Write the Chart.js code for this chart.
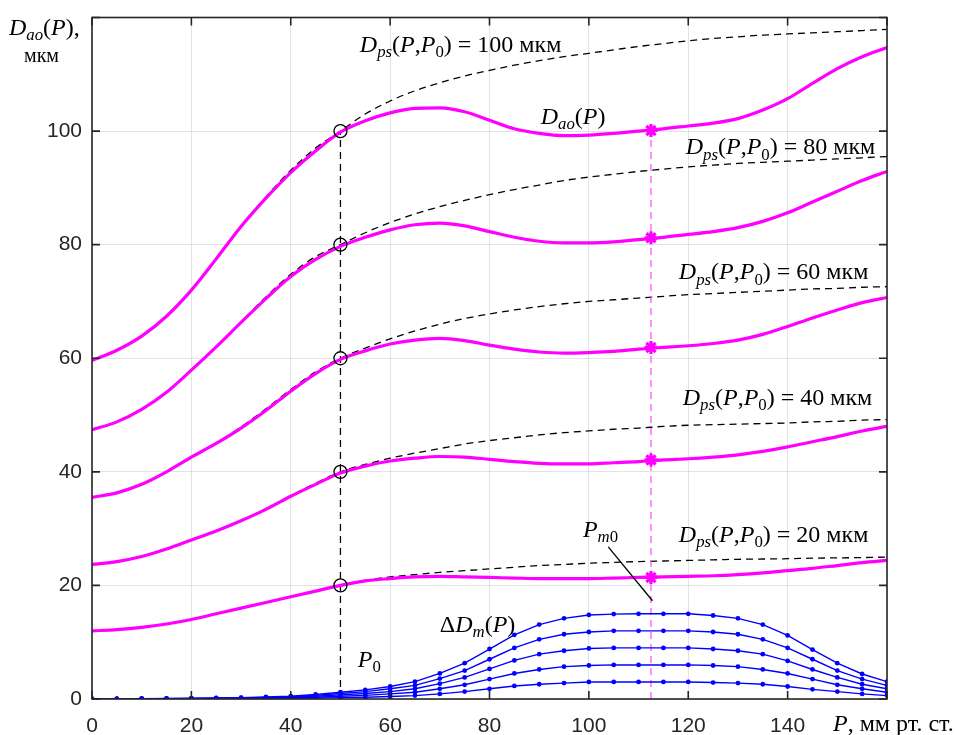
<!DOCTYPE html>
<html>
<head>
<meta charset="utf-8">
<script src="https://cdn.jsdelivr.net/npm/chart.js@4.4.1/dist/chart.umd.min.js"></script>
<style>
  html, body { margin: 0; padding: 0; background: #fff; }
  #wrap { width: 958px; height: 735px; position: relative; }
</style>
</head>
<body>
<div id="wrap"><canvas id="chart"></canvas></div>
<script>
// ---- DATA ----
const P = [0,5,10,15,20,25,30,35,40,45,50,55,60,65,70,75,80,85,90,95,100,105,110,115,120,125,130,135,140,145,150,155,160];

// Dps(P,P0) dashed curves
const dps100 = [59.6,61.4,63.9,67.4,72.0,77.5,83.2,88.4,93.1,97.0,100.0,103.0,105.3,107.1,108.5,109.7,110.7,111.6,112.4,113.1,113.7,114.3,114.9,115.4,115.9,116.3,116.6,116.9,117.1,117.3,117.5,117.7,117.9];
const dps80  = [47.4,48.8,51.0,54.0,57.9,62.0,66.4,70.8,74.8,77.9,80.0,82.1,83.9,85.4,86.7,87.8,88.8,89.7,90.5,91.3,91.9,92.4,92.9,93.3,93.7,94.0,94.3,94.5,94.7,94.9,95.1,95.3,95.5];
const dps60  = [35.5,36.3,37.8,40.0,42.6,45.1,47.9,51.1,54.5,57.6,60.0,61.8,63.4,64.8,66.0,67.0,67.8,68.5,69.1,69.6,70.0,70.3,70.6,70.9,71.2,71.4,71.6,71.8,72.0,72.2,72.3,72.5,72.6];
const dps40  = [23.7,24.2,25.1,26.4,28.0,29.6,31.4,33.5,35.8,38.0,40.0,41.3,42.4,43.3,44.1,44.9,45.5,46.0,46.5,46.9,47.2,47.5,47.7,48.0,48.2,48.3,48.4,48.5,48.6,48.8,48.9,49.1,49.2];
const dps20  = [12.0,12.2,12.6,13.2,14.0,15.0,16.0,17.0,18.0,19.0,20.0,20.9,21.5,21.9,22.3,22.6,22.9,23.2,23.5,23.7,23.9,24.05,24.2,24.3,24.4,24.5,24.6,24.65,24.7,24.8,24.85,24.9,25.0];

// Dao(P) magenta curves
const dao100 = [59.6,61.4,63.9,67.4,72.0,77.5,83.2,88.2,92.7,96.5,99.8,101.8,103.2,104.0,104.1,103.4,101.9,100.4,99.6,99.2,99.3,99.6,100.0,100.4,100.9,101.4,102.2,103.7,105.7,108.4,111.0,113.1,114.7];
const dao80  = [47.4,48.8,51.0,54.0,57.9,62.0,66.3,70.5,74.4,77.4,79.7,81.3,82.6,83.5,83.8,83.3,82.3,81.3,80.6,80.3,80.3,80.5,80.9,81.3,81.8,82.3,83.0,84.1,85.6,87.5,89.4,91.3,92.9];
const dao60  = [35.5,36.3,37.8,40.0,42.6,45.0,47.7,50.8,54.2,57.3,59.8,61.3,62.5,63.2,63.5,63.1,62.3,61.6,61.1,60.9,61.0,61.2,61.6,61.9,62.2,62.6,63.2,64.2,65.6,67.1,68.5,69.8,70.7];
const dao40  = [23.7,24.2,25.1,26.4,28.0,29.6,31.4,33.4,35.7,37.8,39.8,41.0,41.9,42.4,42.7,42.6,42.2,41.8,41.5,41.4,41.4,41.6,41.8,42.1,42.3,42.6,43.0,43.6,44.4,45.3,46.2,47.2,48.0];
const dao20  = [12.0,12.2,12.6,13.2,14.0,15.0,16.0,17.0,18.0,19.0,20.0,20.8,21.2,21.5,21.6,21.5,21.4,21.3,21.2,21.2,21.2,21.3,21.4,21.5,21.6,21.7,21.9,22.2,22.6,23.0,23.5,24.0,24.4];

// ΔDm(P) blue curves
const dm15 = [0.02,0.03,0.05,0.08,0.12,0.18,0.25,0.35,0.5,0.8,1.2,1.6,2.2,3.05,4.5,6.3,8.8,11.3,13.1,14.2,14.8,14.95,15,15,15,14.7,14.2,13.1,11.2,8.7,6.3,4.4,3.05];
const dm12 = [0.02,0.02,0.04,0.06,0.1,0.14,0.2,0.28,0.4,0.64,0.96,1.3,1.8,2.4,3.6,5.0,7.0,9.0,10.5,11.4,11.8,12,12,12,12,11.8,11.4,10.5,9.0,7.0,5.0,3.5,2.4];
const dm9  = [0.01,0.02,0.03,0.05,0.07,0.11,0.15,0.21,0.3,0.48,0.72,0.96,1.3,1.8,2.7,3.8,5.3,6.8,7.9,8.5,8.9,9,9,9,9,8.8,8.5,7.9,6.7,5.2,3.8,2.6,1.8];
const dm6  = [0.01,0.01,0.02,0.03,0.05,0.07,0.1,0.14,0.2,0.32,0.48,0.64,0.9,1.2,1.8,2.5,3.5,4.5,5.2,5.7,5.9,6,6,6,6,5.9,5.7,5.2,4.5,3.5,2.5,1.8,1.2];
const dm3  = [0,0.01,0.01,0.02,0.02,0.04,0.05,0.07,0.1,0.16,0.24,0.32,0.44,0.6,0.9,1.3,1.8,2.3,2.6,2.8,3,3,3,3,3,2.9,2.8,2.6,2.2,1.7,1.3,0.9,0.6];

// markers
const P0 = 50;
const P0levels = [20, 40, 60, 80, 100];
const Pm0 = 112.5;
const Pm0levels = [21.4, 42.1, 61.9, 81.2, 100.1];
const pm0Pointer = [[103.9, 26.8], [112.8, 17.3]];

const xTicks = [0,20,40,60,80,100,120,140,160];
const yTicks = [0,20,40,60,80,100,120];

const MAG = '#ff00ff';
const BLUE = '#0000ff';
const SERIF = '"Liberation Serif", "Times New Roman", serif';
const SANS = '"Liberation Sans", Arial, Helvetica, sans-serif';

const pts = ys => P.map((x, i) => ({ x: x, y: ys[i] }));

// ---- DATASETS ----
const datasets = [];
[dps100, dps80, dps60, dps40, dps20].forEach(d => datasets.push({
  data: pts(d), borderColor: '#000', borderWidth: 1.3, borderDash: [7, 5],
  pointRadius: 0, cubicInterpolationMode: 'monotone', order: 5
}));
[dao100, dao80, dao60, dao40, dao20].forEach(d => datasets.push({
  data: pts(d), borderColor: MAG, borderWidth: 3.2,
  pointRadius: 0, cubicInterpolationMode: 'monotone', order: 2
}));
[dm15, dm12, dm9, dm6, dm3].forEach(d => datasets.push({
  data: pts(d), borderColor: BLUE, backgroundColor: BLUE, borderWidth: 1.4,
  pointRadius: 2.4, pointBorderWidth: 0, tension: 0, order: 3
}));
datasets.push({
  data: [{ x: P0, y: 0 }, { x: P0, y: Math.max(...P0levels) }],
  borderColor: '#000', borderWidth: 1.3, borderDash: [7, 5], pointRadius: 0, order: 4
});
datasets.push({
  data: [{ x: Pm0, y: 0 }, { x: Pm0, y: Math.max(...Pm0levels) }],
  borderColor: '#ff55ff', borderWidth: 1.3, borderDash: [7, 5], pointRadius: 0, order: 4
});
datasets.push({
  data: pm0Pointer.map(p => ({ x: p[0], y: p[1] })),
  borderColor: '#000', borderWidth: 1.3, pointRadius: 0, order: 1
});
datasets.push({
  data: P0levels.map(v => ({ x: P0, y: v })), showLine: false,
  pointStyle: 'circle', pointRadius: 6.5, borderColor: '#000', backgroundColor: 'rgba(0,0,0,0)',
  pointBorderWidth: 1.3, order: 0
});
datasets.push({
  data: Pm0levels.map(v => ({ x: Pm0, y: v })), showLine: false,
  pointStyle: 'star', pointRadius: 6.5, borderColor: MAG, backgroundColor: MAG,
  pointBorderWidth: 3.2, order: 0
});

// ---- TEXT LABELS ----
const dpsText = v => [['D','i'],['ps','is'],['(',''],['P','i'],[',',''],['P','i'],['0','s'],[') = ' + v + ' мкм','']];
const inLabels = [
  { x: 53.9, y: 114.0, segs: dpsText(100) },
  { x: 90.3, y: 101.3, segs: [['D','i'],['ao','is'],['(',''],['P','i'],[')','']] },
  { x: 119.5, y: 95.9, segs: dpsText(80) },
  { x: 118.1, y: 73.9, segs: dpsText(60) },
  { x: 118.9, y: 51.8, segs: dpsText(40) },
  { x: 118.1, y: 27.7, segs: dpsText(20) },
  { x: 98.8, y: 28.6, segs: [['P','i'],['m','is'],['0','s']] },
  { x: 70.0, y: 11.8, segs: [['Δ',''],['D','i'],['m','is'],['(',''],['P','i'],[')','']] },
  { x: 53.5, y: 5.6, segs: [['P','i'],['0','s']] }
];

function rich(ctx, x, y, segs, size) {
  let cx = x;
  for (const [t, f] of segs) {
    const it = f.includes('i'), sub = f.includes('s');
    const fs = sub ? size * 0.7 : size;
    ctx.font = (it ? 'italic ' : '') + fs + 'px ' + SERIF;
    ctx.fillText(t, cx, y + (sub ? size * 0.22 : 0));
    cx += ctx.measureText(t).width;
  }
}

const decor = {
  id: 'decor',
  afterDraw(chart) {
    const { ctx, chartArea: a, scales: { x, y } } = chart;
    ctx.save();
    // frame
    ctx.strokeStyle = '#262626';
    ctx.lineWidth = 1.6;
    ctx.strokeRect(a.left, a.top, a.right - a.left, a.bottom - a.top);
    // inward ticks on all sides
    ctx.beginPath();
    xTicks.forEach(t => {
      const px = x.getPixelForValue(t);
      ctx.moveTo(px, a.bottom); ctx.lineTo(px, a.bottom - 8);
      ctx.moveTo(px, a.top); ctx.lineTo(px, a.top + 8);
    });
    yTicks.forEach(t => {
      const py = y.getPixelForValue(t);
      ctx.moveTo(a.left, py); ctx.lineTo(a.left + 8, py);
      ctx.moveTo(a.right, py); ctx.lineTo(a.right - 8, py);
    });
    ctx.stroke();

    // labels
    ctx.fillStyle = '#000';
    ctx.textBaseline = 'alphabetic';
    ctx.textAlign = 'left';
    inLabels.forEach(l => rich(ctx, x.getPixelForValue(l.x), y.getPixelForValue(l.y), l.segs, 24));
    rich(ctx, 9, 35, [['D','i'],['ao','is'],['(',''],['P','i'],['),','']], 24);
    ctx.font = '20px ' + SERIF;
    ctx.fillText('мкм', 24, 62);
    rich(ctx, 833, 731, [['P','i'],[', мм рт. ст.','']], 24);
    ctx.restore();
  }
};

const noPad = s => { s.paddingTop = 0; s.paddingBottom = 0; s.paddingLeft = 0; s.paddingRight = 0; };

// ---- CHART ----
new Chart(document.getElementById('chart').getContext('2d'), {
  type: 'line',
  data: { datasets: datasets },
  options: {
    responsive: true,
    maintainAspectRatio: false,
    animation: false,
    layout: { padding: { left: 0, top: 17.5, right: 71, bottom: 0 } },
    plugins: { legend: { display: false }, tooltip: { enabled: false } },
    scales: {
      x: {
        type: 'linear', min: 0, max: 160,
        afterFit: s => { s.height = 36; noPad(s); },
        afterBuildTicks: s => { s.ticks = xTicks.map(v => ({ value: v })); },
        ticks: {
          color: '#262626', padding: 15, maxRotation: 0,
          font: { family: SANS, size: 21 },
          callback: v => (v === 160 ? '' : v)
        },
        grid: { color: 'rgba(0,0,0,0.11)', drawTicks: false },
        border: { display: false }
      },
      y: {
        type: 'linear', min: 0, max: 120,
        afterFit: s => { s.width = 92; noPad(s); },
        afterBuildTicks: s => { s.ticks = yTicks.map(v => ({ value: v })); },
        ticks: {
          color: '#262626', padding: 10,
          font: { family: SANS, size: 21 },
          callback: v => (v === 120 ? '' : v)
        },
        grid: { color: 'rgba(0,0,0,0.11)', drawTicks: false },
        border: { display: false }
      }
    }
  },
  plugins: [decor]
});
</script>
</body>
</html>
